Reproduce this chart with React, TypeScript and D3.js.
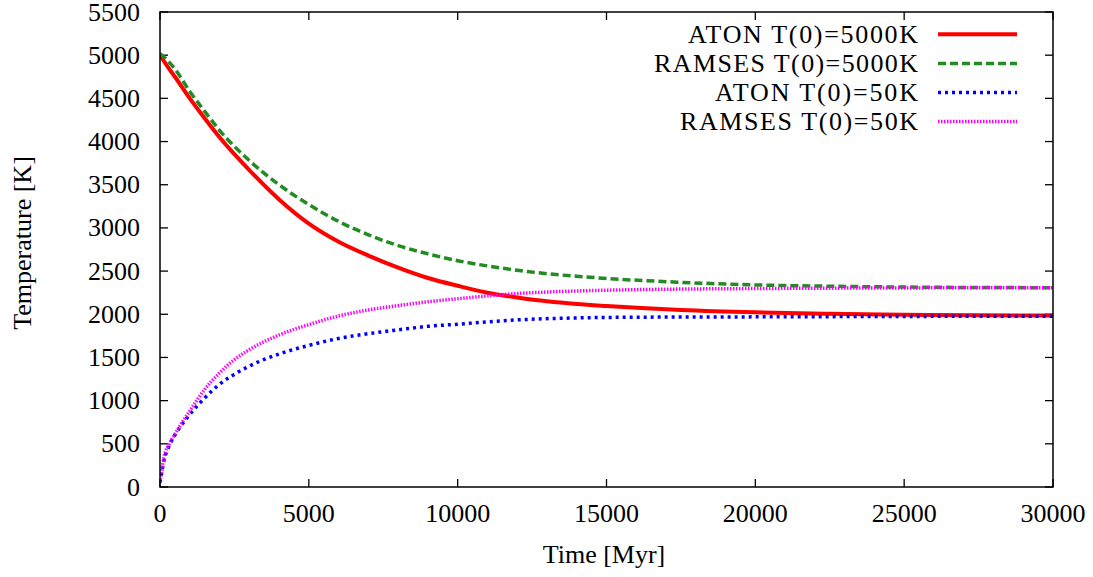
import React from "react";
import * as d3 from "d3";

const atonHotT = [0, 250, 500, 1000, 1500, 2000, 3000, 4000, 5000, 6000, 7000, 8000, 9000, 10000, 11000, 12000, 13000, 14000, 15000, 17500, 20000, 22500, 25000, 27500, 30000];
const atonHotV = [5000, 4870, 4750, 4500, 4270, 4050, 3670, 3330, 3050, 2840, 2680, 2540, 2420, 2330, 2250, 2195, 2150, 2118, 2095, 2050, 2022, 2005, 1995, 1988, 1985];

const ramsesHotT = [0, 250, 500, 1000, 1500, 2000, 3000, 4000, 5000, 6000, 7000, 8000, 9000, 10000, 11000, 12000, 13000, 14000, 15000, 17500, 20000, 22500, 25000, 27500, 30000];
const ramsesHotV = [5020, 4940, 4840, 4580, 4350, 4130, 3780, 3500, 3270, 3075, 2920, 2795, 2700, 2620, 2560, 2510, 2470, 2440, 2415, 2370, 2340, 2325, 2315, 2310, 2308];

const atonColdT = [0, 150, 300, 500, 750, 1000, 1500, 2000, 2500, 3000, 4000, 5000, 6000, 7000, 8000, 9000, 10000, 12000, 14000, 16000, 20000, 25000, 30000];
const atonColdV = [50, 330, 470, 600, 730, 840, 1030, 1190, 1305, 1400, 1540, 1640, 1720, 1775, 1820, 1860, 1885, 1935, 1958, 1966, 1970, 1975, 1978];

const ramsesColdT = [0, 150, 300, 500, 750, 1000, 1500, 2000, 2500, 3000, 4000, 5000, 6000, 7000, 8000, 9000, 10000, 12000, 14000, 16000, 20000, 25000, 30000];
const ramsesColdV = [50, 370, 490, 610, 750, 880, 1130, 1320, 1475, 1590, 1760, 1880, 1980, 2050, 2100, 2145, 2180, 2240, 2270, 2285, 2298, 2305, 2308];

const xTicks = [0, 5000, 10000, 15000, 20000, 25000, 30000];
const yTicks = [0, 500, 1000, 1500, 2000, 2500, 3000, 3500, 4000, 4500, 5000, 5500];

const seriesNames = ["ATON T(0)=5000K", "RAMSES T(0)=5000K", "ATON T(0)=50K", "RAMSES T(0)=50K"];

const series = [
  { name: seriesNames[0], t: atonHotT, v: atonHotV, color: "#ff0000", dash: "none", width: 4 },
  { name: seriesNames[1], t: ramsesHotT, v: ramsesHotV, color: "#228b22", dash: "8,4", width: 3.5 },
  { name: seriesNames[2], t: atonColdT, v: atonColdV, color: "#0000ff", dash: "3,4", width: 3.5 },
  { name: seriesNames[3], t: ramsesColdT, v: ramsesColdV, color: "#ff00ff", dash: "1.5,1.5", width: 3.5 },
];

const W = 1093;
const H = 577;
const L = 160, R = 1053, T = 12, B = 487;
const FONT = "Liberation Serif, Times New Roman, serif";

export default function App() {
  const x = d3.scaleLinear().domain([0, 30000]).range([L, R]);
  const y = d3.scaleLinear().domain([0, 5500]).range([B, T]);
  const line = d3
    .line<[number, number]>()
    .x((d) => x(d[0]))
    .y((d) => y(d[1]))
    .curve(d3.curveMonotoneX);
  const tickLen = 8;
  return (
    <svg width={W} height={H} style={{ position: "absolute", left: 0, top: 0, background: "#fff" }} fontFamily={FONT}>
      <rect x={0} y={0} width={W} height={H} fill="#fff" />
      <defs>
        <clipPath id="plotclip">
          <rect x={L} y={T} width={R - L} height={B - T} />
        </clipPath>
      </defs>
      {yTicks.map((v) => (
        <g key={"y" + v}>
          <line x1={L} x2={L + tickLen} y1={y(v)} y2={y(v)} stroke="#000" strokeWidth={1.3} />
          <line x1={R} x2={R - tickLen} y1={y(v)} y2={y(v)} stroke="#000" strokeWidth={1.3} />
          <text x={140} y={y(v)} dy="0.33em" textAnchor="end" fontSize={26} fill="#000">
            {v}
          </text>
        </g>
      ))}
      {xTicks.map((v) => (
        <g key={"x" + v}>
          <line x1={x(v)} x2={x(v)} y1={B} y2={B - tickLen} stroke="#000" strokeWidth={1.3} />
          <line x1={x(v)} x2={x(v)} y1={T} y2={T + tickLen} stroke="#000" strokeWidth={1.3} />
          <text x={x(v)} y={522} textAnchor="middle" fontSize={26} fill="#000">
            {v}
          </text>
        </g>
      ))}
      <g clipPath="url(#plotclip)">
        {series.map((s) => (
          <path
            key={s.name}
            d={line(s.t.map((t, i) => [t, s.v[i]] as [number, number])) || ""}
            fill="none"
            stroke={s.color}
            strokeWidth={s.width}
            strokeDasharray={s.dash}
          />
        ))}
      </g>
      <rect x={L} y={T} width={R - L} height={B - T} fill="none" stroke="#000" strokeWidth={1.5} />
      {series.map((s, i) => {
        const cy = 34.3 + i * 29.1;
        return (
          <g key={"lg" + i}>
            <text x={918} y={cy + 8.5} textAnchor="end" fontSize={26} fill="#000" textLength={i === 0 ? 230 : i === 1 ? 264 : i === 2 ? 203 : 238} lengthAdjust="spacing">
              {s.name}
            </text>
            <line x1={938} x2={1017} y1={cy} y2={cy} stroke={s.color} strokeWidth={s.width} strokeDasharray={s.dash} />
          </g>
        );
      })}
      <text x={604} y={563} textAnchor="middle" fontSize={26} fill="#000">
        Time [Myr]
      </text>
      <text transform={`translate(31,243) rotate(-90)`} textAnchor="middle" fontSize={26} fill="#000">
        Temperature [K]
      </text>
    </svg>
  );
}
